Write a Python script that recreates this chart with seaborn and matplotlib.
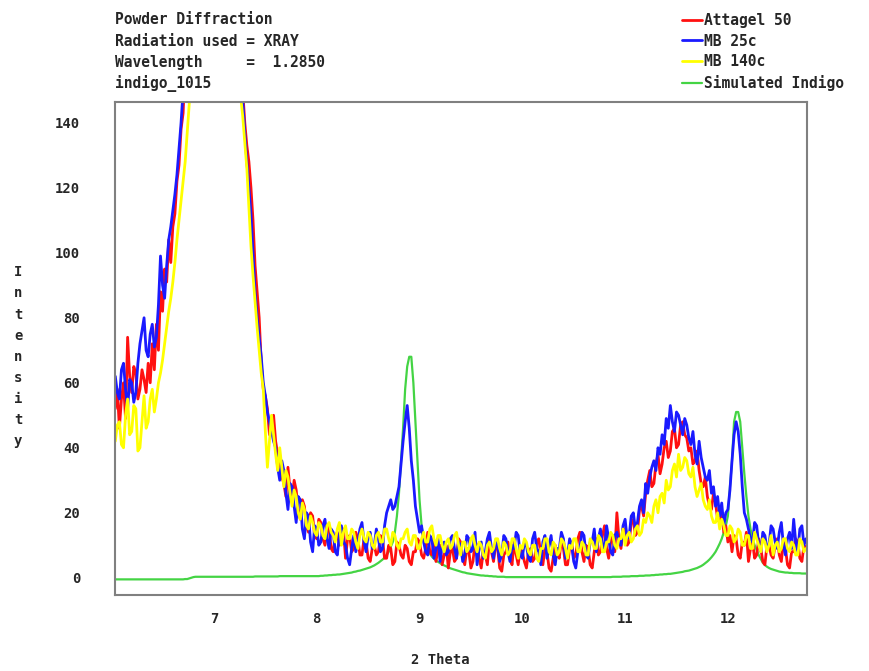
import numpy as np
import pandas as pd
from matplotlib import pyplot as plt
import seaborn as sns

# 2-theta scan positions (deg), 0.02 step
two_theta = np.round(np.arange(6.04, 12.7601, 0.02), 2)

attagel_50 = [
    52, 58, 46, 55, 60, 49, 74, 62, 57, 65, 63, 55, 58, 64, 61, 57, 66, 60, 72, 64,
    78, 70, 88, 82, 95, 91, 104, 97, 108, 112, 122, 127, 138, 143, 158, 170, 185, 198, 210, 222,
    230, 238, 245, 250, 255, 258, 260, 259, 258, 255, 250, 243, 235, 225, 215, 205, 195, 185, 175, 170,
    165, 158, 150, 140, 133, 128, 120, 110, 96, 88, 80, 66, 58, 56, 52, 44, 47, 50, 42, 38,
    36, 31, 29, 25, 34, 27, 24, 30, 27, 21, 18, 24, 22, 16, 14, 20, 19, 13, 12, 18,
    17, 12, 10, 16, 15, 9, 8, 13, 14, 10, 11, 15, 6, 12, 13, 8, 9, 14, 12, 7,
    7, 12, 11, 6, 5, 9, 10, 7, 8, 13, 12, 6, 6, 10, 9, 4, 5, 11, 10, 7,
    6, 10, 9, 5, 4, 8, 8, 12, 11, 7, 6, 9, 14, 8, 7, 11, 5, 9, 10, 4,
    7, 10, 3, 8, 9, 5, 6, 12, 11, 6, 4, 9, 8, 3, 5, 11, 10, 6, 3, 8,
    7, 4, 12, 8, 5, 10, 9, 3, 2, 7, 8, 11, 6, 4, 11, 7, 4, 9, 8, 5,
    3, 8, 9, 5, 6, 11, 12, 7, 4, 9, 8, 3, 2, 6, 10, 7, 6, 12, 9, 4,
    4, 9, 11, 6, 7, 12, 14, 8, 5, 10, 9, 4, 3, 8, 12, 7, 8, 13, 16, 9,
    6, 11, 13, 8, 20, 12, 9, 15, 15, 10, 11, 17, 18, 13, 14, 21, 22, 19, 26, 30,
    33, 28, 29, 35, 38, 32, 35, 40, 42, 37, 39, 45, 46, 40, 41, 47, 48, 44, 43, 39,
    40, 35, 36, 39, 33, 29, 28, 31, 25, 22, 21, 26, 23, 18, 17, 20, 14, 16, 11, 13,
    8, 13, 12, 7, 6, 11, 10, 14, 5, 9, 11, 6, 7, 12, 9, 5, 4, 10, 10, 7,
    6, 10, 12, 7, 5, 11, 9, 4, 3, 8, 8, 12, 11, 6, 5, 10, 9,
]

mb_25c = [
    62, 57, 55, 64, 66, 58, 52, 61, 60, 54, 57, 66, 72, 76, 80, 70, 68, 75, 78, 71,
    74, 84, 99, 90, 86, 96, 104, 108, 113, 118, 124, 132, 140, 150, 162, 176, 190, 203, 215, 226,
    235, 243, 250, 255, 258, 260, 262, 261, 260, 256, 252, 245, 238, 229, 220, 209, 198, 188, 178, 168,
    160, 154, 147, 137, 128, 120, 112, 100, 88, 80, 74, 68, 60, 56, 51, 48, 45, 42, 40, 34,
    30, 36, 33, 26, 21, 29, 28, 22, 17, 25, 24, 15, 12, 20, 19, 11, 8, 16, 15, 10,
    11, 16, 18, 12, 9, 15, 14, 8, 7, 13, 16, 11, 10, 6, 4, 9, 13, 8, 11, 15,
    17, 11, 8, 13, 14, 9, 10, 15, 12, 8, 9, 16, 20, 22, 24, 21, 22, 25, 28, 35,
    42, 48, 53, 46, 36, 30, 22, 18, 14, 16, 11, 8, 7, 13, 12, 6, 9, 12, 5, 10,
    11, 7, 8, 12, 13, 9, 6, 11, 10, 5, 7, 13, 12, 8, 9, 14, 4, 9, 11, 6,
    8, 12, 14, 9, 6, 11, 10, 5, 7, 13, 12, 8, 5, 10, 9, 14, 13, 7, 6, 11,
    10, 6, 5, 12, 14, 9, 8, 4, 11, 13, 6, 10, 13, 7, 4, 9, 9, 14, 12, 6,
    7, 12, 10, 5, 3, 8, 9, 14, 13, 7, 6, 11, 11, 15, 8, 12, 15, 10, 9, 16,
    12, 8, 7, 13, 14, 11, 10, 16, 18, 12, 13, 19, 20, 15, 17, 22, 24, 20, 29, 26,
    31, 34, 36, 33, 40, 38, 44, 41, 49, 46, 53, 48, 45, 51, 50, 47, 44, 49, 47, 43,
    41, 45, 38, 35, 42, 37, 34, 31, 30, 33, 26, 28, 22, 25, 19, 23, 16, 20, 21, 27,
    36, 44, 48, 45, 38, 28, 20, 18, 15, 12, 11, 17, 16, 10, 8, 14, 13, 9, 10, 16,
    15, 11, 9, 14, 17, 10, 7, 12, 14, 9, 18, 11, 8, 15, 16, 10, 12,
]

mb_140c = [
    42, 47, 48, 41, 40, 50, 55, 44, 45, 53, 52, 39, 40, 48, 56, 46, 48, 55, 58, 51,
    55, 60, 63, 67, 72, 77, 82, 86, 91, 97, 104, 110, 116, 122, 128, 137, 146, 158, 170, 183,
    195, 208, 220, 230, 238, 244, 248, 251, 252, 250, 248, 243, 236, 227, 218, 207, 196, 184, 172, 163,
    155, 148, 142, 134, 126, 114, 102, 93, 85, 77, 70, 63, 58, 45, 34, 42, 50, 44, 38, 33,
    40, 34, 28, 33, 31, 26, 22, 27, 25, 20, 18, 23, 21, 16, 15, 19, 17, 14, 13, 17,
    16, 13, 12, 16, 17, 14, 13, 11, 15, 17, 10, 14, 16, 12, 12, 15, 14, 11, 9, 13,
    15, 12, 11, 14, 13, 10, 9, 13, 14, 11, 11, 15, 15, 12, 10, 14, 13, 10, 9, 12,
    12, 14, 15, 11, 10, 13, 13, 9, 9, 12, 14, 11, 11, 15, 16, 12, 10, 13, 13, 10,
    8, 11, 12, 9, 10, 13, 14, 10, 7, 11, 11, 8, 9, 12, 13, 10, 8, 11, 10, 7,
    6, 10, 11, 8, 9, 12, 12, 9, 7, 11, 10, 7, 8, 12, 12, 9, 6, 10, 9, 12,
    11, 8, 7, 10, 10, 6, 5, 9, 9, 12, 12, 8, 7, 11, 10, 7, 8, 12, 11, 9,
    6, 10, 9, 12, 12, 8, 8, 11, 10, 7, 7, 12, 11, 9, 9, 13, 12, 8, 8, 11,
    11, 14, 13, 10, 9, 12, 12, 15, 10, 13, 14, 11, 12, 15, 16, 13, 14, 18, 17, 20,
    19, 17, 22, 24, 20, 25, 26, 23, 30, 27, 28, 33, 35, 31, 38, 33, 34, 37, 36, 32,
    31, 34, 28, 25, 27, 29, 24, 22, 21, 24, 19, 17, 17, 20, 15, 18, 16, 13, 13, 16,
    15, 11, 12, 15, 14, 10, 10, 13, 13, 9, 9, 14, 12, 10, 8, 12, 11, 8, 10, 13,
    7, 10, 11, 8, 9, 12, 12, 9, 8, 11, 10, 7, 7, 12, 11, 8, 9,
]

simulated_indigo = [
    -0.5, -0.5, -0.5, -0.5, -0.5, -0.5, -0.5, -0.5, -0.5, -0.5,
    -0.5, -0.5, -0.5, -0.5, -0.5, -0.5, -0.5, -0.5, -0.5, -0.5,
    -0.5, -0.5, -0.5, -0.5, -0.5, -0.5, -0.5, -0.5, -0.5, -0.5,
    -0.5, -0.5, -0.5, -0.5, -0.4, -0.4, -0.2, 0.0, 0.2, 0.3,
    0.3, 0.3, 0.3, 0.3, 0.3, 0.3, 0.3, 0.3, 0.3, 0.3,
    0.3, 0.3, 0.3, 0.3, 0.3, 0.3, 0.3, 0.3, 0.3, 0.3,
    0.3, 0.3, 0.3, 0.3, 0.3, 0.3, 0.3, 0.3, 0.4, 0.4,
    0.4, 0.4, 0.4, 0.4, 0.4, 0.4, 0.4, 0.4, 0.4, 0.4,
    0.5, 0.5, 0.5, 0.5, 0.5, 0.5, 0.5, 0.5, 0.5, 0.5,
    0.5, 0.5, 0.5, 0.5, 0.5, 0.5, 0.5, 0.5, 0.5, 0.5,
    0.6, 0.6, 0.7, 0.7, 0.8, 0.8, 0.9, 0.9, 1.0, 1.0,
    1.1, 1.2, 1.3, 1.4, 1.5, 1.6, 1.8, 1.9, 2.1, 2.2,
    2.4, 2.6, 2.8, 3.0, 3.2, 3.5, 3.8, 4.2, 4.6, 5.1,
    5.6, 6.2, 7.0, 8.0, 9.5, 11, 14, 19, 26, 36,
    46, 58, 65, 68, 68, 60, 48, 36, 24, 16,
    12, 10, 8.5, 7.4, 6.5, 5.9, 5.3, 4.9, 4.5, 4.1,
    3.8, 3.5, 3.2, 2.9, 2.7, 2.5, 2.3, 2.1, 1.9, 1.7,
    1.6, 1.4, 1.3, 1.2, 1.1, 1.0, 0.9, 0.8, 0.7, 0.7,
    0.6, 0.6, 0.5, 0.5, 0.4, 0.4, 0.3, 0.3, 0.3, 0.3,
    0.2, 0.2, 0.2, 0.2, 0.2, 0.2, 0.2, 0.2, 0.2, 0.2,
    0.2, 0.2, 0.2, 0.2, 0.2, 0.2, 0.2, 0.2, 0.2, 0.2,
    0.2, 0.2, 0.2, 0.2, 0.2, 0.2, 0.2, 0.2, 0.2, 0.2,
    0.2, 0.2, 0.2, 0.2, 0.2, 0.2, 0.2, 0.2, 0.2, 0.2,
    0.2, 0.2, 0.2, 0.2, 0.2, 0.2, 0.2, 0.2, 0.2, 0.2,
    0.2, 0.2, 0.3, 0.3, 0.3, 0.3, 0.3, 0.4, 0.4, 0.4,
    0.4, 0.5, 0.5, 0.5, 0.5, 0.6, 0.6, 0.6, 0.7, 0.7,
    0.7, 0.8, 0.8, 0.9, 0.9, 1.0, 1.0, 1.1, 1.1, 1.2,
    1.2, 1.3, 1.4, 1.5, 1.6, 1.7, 1.8, 2.0, 2.1, 2.2,
    2.4, 2.6, 2.8, 3.0, 3.3, 3.6, 4.0, 4.5, 5.0, 5.6,
    6.3, 7.1, 8.0, 9.2, 10.5, 12, 14, 16, 19, 28,
    36, 48, 51, 51, 48, 40, 32, 25, 19, 15,
    12, 10, 8.5, 7.0, 5.8, 4.6, 3.9, 3.4, 3.0, 2.7,
    2.5, 2.3, 2.1, 1.9, 1.8, 1.7, 1.6, 1.6, 1.5, 1.5,
    1.4, 1.4, 1.4, 1.4, 1.3, 1.3, 1.3,
]

series_names = ["Attagel 50", "MB 25c", "MB 140c", "Simulated Indigo"]
series_colors = ["#ff1010", "#1a1aff", "#ffff00", "#44d444"]
header_lines = [
    "Powder Diffraction",
    "Radiation used = XRAY",
    "Wavelength     =  1.2850",
    "indigo_1015",
]
x_ticks = [7, 8, 9, 10, 11, 12]
y_ticks = [0, 20, 40, 60, 80, 100, 120, 140]

sns.set_style("white")
plt.rcParams["font.family"] = ["DejaVu Sans Mono"]
plt.rcParams["font.weight"] = "bold"

fig = plt.figure(figsize=(8.69, 6.71), dpi=100)
ax = fig.add_axes([0.1323, 0.1133, 0.7964, 0.7347])

values = [attagel_50, mb_25c, mb_140c, simulated_indigo]
lines = {}
# simulated pattern goes underneath the measured scans
for idx in [3, 0, 1, 2]:
    df = pd.DataFrame({"two_theta": two_theta, "intensity": values[idx]})
    lw = 1.6 if idx == 3 else 2.0
    sns.lineplot(data=df, x="two_theta", y="intensity", color=series_colors[idx],
                 linewidth=lw, ax=ax, legend=False)
    lines[idx] = ax.lines[-1]

ax.set_xlim(6.037, 12.77)
ax.set_ylim(-5.3, 146.4)
ax.set_xticks(x_ticks)
ax.set_yticks(y_ticks)
ax.tick_params(axis="x", direction="out", length=5, width=1.2, color="#888888",
               pad=7, labelsize=10)
ax.tick_params(axis="y", direction="out", length=6, width=1.2, color="#888888",
               pad=19, labelsize=10)
for s in ax.spines.values():
    s.set_color("#808080")
    s.set_linewidth(1.5)

ax.set_xlabel("2 Theta", fontsize=10, fontweight="bold", va="center")
ax.xaxis.set_label_coords(0.47, -0.132)
ax.set_ylabel("\n".join("Intensity"), rotation=0, fontsize=10, fontweight="bold",
              linespacing=1.65, va="center", ha="center")
ax.yaxis.set_label_coords(-0.140, 0.483)

for i, txt in enumerate(header_lines):
    fig.text(115 / 869, 1 - (20 + i * 21.3) / 671, txt, fontsize=10.5,
             fontweight="bold", ha="left", va="center")

fig.legend([lines[i] for i in range(4)], series_names, loc="upper left",
           bbox_to_anchor=(682 / 869, 1 - 13 / 671), frameon=False,
           handlelength=1.4, handletextpad=0.1, labelspacing=0.38,
           prop={"size": 10.5, "weight": "bold"}, borderaxespad=0, borderpad=0)

plt.savefig("out.png", dpi=100)
plt.close()
